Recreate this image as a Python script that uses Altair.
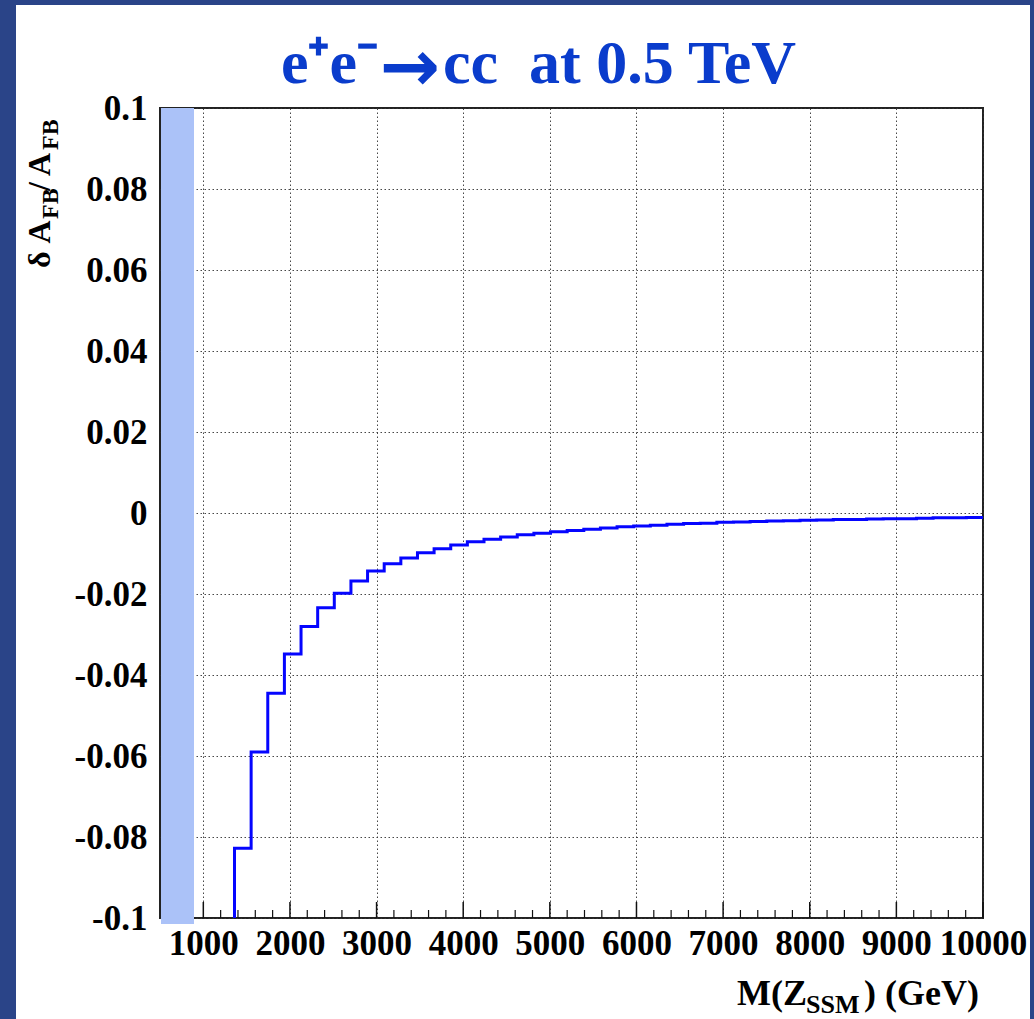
import altair as alt
import pandas as pd

# Histogram of the relative shift of A_FB versus the Z' (SSM) mass.
# Lower edge of each 192 GeV bin (GeV) and the bin content.
BIN_LOW_EDGES = [
    1168, 1360, 1552, 1744, 1936, 2128, 2320, 2512, 2704, 2896,
    3088, 3280, 3472, 3664, 3856, 4048, 4240, 4432, 4624, 4816,
    5008, 5200, 5392, 5584, 5776, 5968, 6160, 6352, 6544, 6736,
    6928, 7120, 7312, 7504, 7696, 7888, 8080, 8272, 8464, 8656,
    8848, 9040, 9232, 9424, 9616, 9808,
]
UPPER_EDGE = 10000
DELTA_AFB = [
    -0.1200, -0.0828, -0.0590, -0.0445, -0.0348, -0.0280, -0.0234, -0.0198, -0.0168, -0.0143,
    -0.0125, -0.0111, -0.0098, -0.0088, -0.0079, -0.0071, -0.0065, -0.0059, -0.0054, -0.0050,
    -0.0046, -0.0043, -0.0040, -0.0037, -0.0034, -0.0032, -0.0030, -0.0028, -0.0026, -0.0025,
    -0.0023, -0.0022, -0.0021, -0.0020, -0.0019, -0.0018, -0.0017, -0.0016, -0.0016, -0.0015,
    -0.0014, -0.0014, -0.0013, -0.0012, -0.0012, -0.0011,
]

X_TICKS = [1000, 2000, 3000, 4000, 5000, 6000, 7000, 8000, 9000, 10000]
X_MINOR_TICKS = [m for m in range(600, 10000, 200) if m % 1000 != 0]
Y_TICKS = [-0.1, -0.08, -0.06, -0.04, -0.02, 0, 0.02, 0.04, 0.06, 0.08, 0.1]

X_DOMAIN = [500, 10000]
Y_DOMAIN = [-0.1, 0.1]

# layout of the page (pixels)
PAGE_W, PAGE_H = 1034, 1019
PAD_L, PAD_T, PAD_R, PAD_B = 160, 108, 51, 101
W = PAGE_W - PAD_L - PAD_R
H = PAGE_H - PAD_T - PAD_B

SERIF = "Liberation Serif"
SLIDE_BLUE = "#2a4488"
TITLE_BLUE = "#0a3ccc"

# step histogram: each bin starts at its lower edge, last point closes the range
hist = pd.DataFrame({
    "mass": BIN_LOW_EDGES + [UPPER_EDGE],
    "delta": DELTA_AFB + [DELTA_AFB[-1]],
})
one_row = pd.DataFrame({"k": [0]})

x_scale = alt.Scale(domain=X_DOMAIN, nice=False, zero=False)
y_scale = alt.Scale(domain=Y_DOMAIN, nice=False, zero=False)
x_axis = alt.Axis(values=X_TICKS, format="d", grid=True, tickSize=0,
                  domain=False, labelPadding=8, labelFlush=False,
                  labelOverlap=False, title=None)
y_axis = alt.Axis(values=Y_TICKS, grid=True, tickSize=0, domain=False,
                  labelPadding=13, title=None,
                  labelExpr="datum.value == 0 ? '0' : replace(format(datum.value, '.2~f'), '\u2212', '-')")


def block(x0, x1, y0, y1, color):
    return alt.Chart(one_row).mark_rect(color=color).encode(
        x=alt.value(x0), x2=alt.value(x1), y=alt.value(y0), y2=alt.value(y1)
    )


def text_mark(txt, x, y, size, angle=0, align="left", color="black", font=SERIF):
    return alt.Chart(one_row).mark_text(
        text=txt, font=font, fontSize=size, fontWeight="bold",
        align=align, baseline="alphabetic", angle=angle, color=color,
    ).encode(x=alt.value(x), y=alt.value(y))


# slide frame around the white page
frame = [
    block(-PAD_L, 16 - PAD_L, -PAD_T, PAGE_H - PAD_T, SLIDE_BLUE),
    block(-PAD_L, PAGE_W - PAD_L, -PAD_T, 5 - PAD_T, SLIDE_BLUE),
    block(1030 - PAD_L, PAGE_W - PAD_L, -PAD_T, PAGE_H - PAD_T, SLIDE_BLUE),
]

steps = alt.Chart(hist).mark_line(
    interpolate="step-after", color="#0505ff", strokeWidth=3, clip=True
).encode(
    x=alt.X("mass:Q", scale=x_scale, axis=x_axis),
    y=alt.Y("delta:Q", scale=y_scale, axis=y_axis),
)

major_ticks = alt.Chart(pd.DataFrame({"mass": X_TICKS})).mark_rule(
    color="#111", strokeWidth=1.5
).encode(
    x=alt.X("mass:Q", scale=x_scale, axis=x_axis),
    y=alt.value(H), y2=alt.value(H - 16),
)
minor_ticks = alt.Chart(pd.DataFrame({"mass": X_MINOR_TICKS})).mark_rule(
    color="#111", strokeWidth=1.2
).encode(
    x=alt.X("mass:Q", scale=x_scale, axis=x_axis),
    y=alt.value(H), y2=alt.value(H - 8),
)

side_bar = block(1, 34, 0, H + 6, "#abc2f8")

# title: e+e- -> cc at 0.5 TeV
title = [
    text_mark("e\u207ae\u207b", 378 - PAD_L, -25, 62, align="right", color=TITLE_BLUE),
    text_mark("\u2192", 410 - PAD_L, -17, 72, align="center", color=TITLE_BLUE,
              font="DejaVu Sans"),
    text_mark("cc\u00a0\u00a0at 0.5 TeV", 443 - PAD_L, -25, 62, color=TITLE_BLUE),
]

# y title: delta A_FB / A_FB, read bottom to top
y_title = [
    text_mark("\u03b4 A", -110, 160, 32, angle=270),
    text_mark("FB", -102, 111, 24, angle=270),
    text_mark("/ A", -110, 83, 32, angle=270),
    text_mark("FB", -102, 42, 24, angle=270),
]

# x title: M(Z_SSM) (GeV), right aligned with the axis end
x_title = [
    text_mark("M(Z", 737 - PAD_L, 897, 36),
    text_mark("SSM", 806 - PAD_L, 905, 26),
    text_mark(") (GeV)", 979 - PAD_L, 897, 36, align="right"),
]

chart = alt.layer(
    *frame, steps, major_ticks, minor_ticks, side_bar, *title, *y_title, *x_title
).properties(
    width=W, height=H,
    padding={"left": PAD_L, "top": PAD_T, "right": PAD_R, "bottom": PAD_B},
    autosize=alt.AutoSizeParams(type="none"),
).configure(
    background="white",
).configure_view(
    stroke="#222", strokeWidth=2,
).configure_axis(
    labelFont=SERIF, labelFontSize=35, labelFontWeight="bold", labelColor="black",
    gridColor="#333", gridDash=[1.5, 2.5], gridWidth=1, gridOpacity=0.9,
)

chart.save("out.html", embed_options={"renderer": "svg", "actions": False})
